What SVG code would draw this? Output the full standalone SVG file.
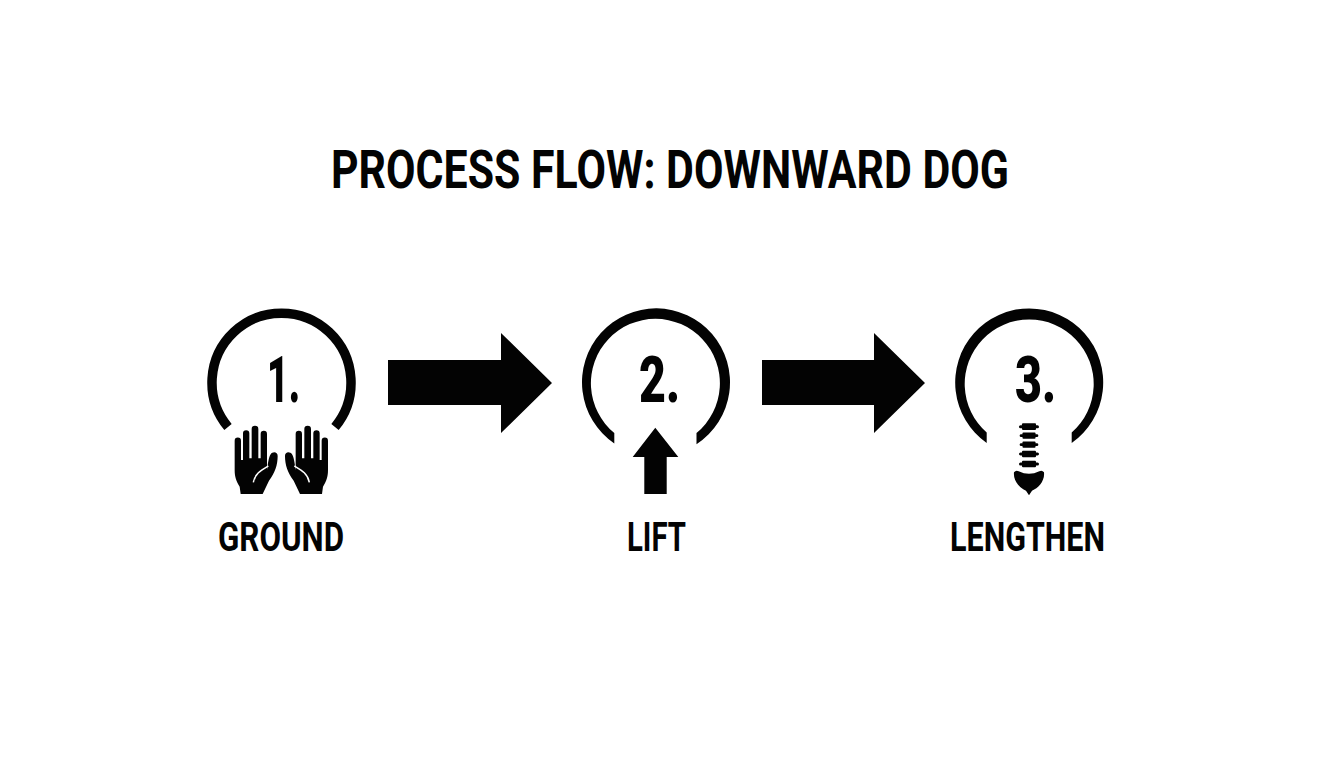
<svg xmlns="http://www.w3.org/2000/svg" xmlns:xlink="http://www.w3.org/1999/xlink" width="1344" height="768" viewBox="0 0 1344 768">
<style>
text{font-family:"Roboto","Liberation Sans",sans-serif;font-weight:700;fill:#030303;text-anchor:middle}
.ink{fill:#030303}
.ring{fill:none;stroke:#030303;stroke-width:9.5}
.crease{fill:none;stroke:#fff;stroke-width:4.500}
.title{font-size:53px}
.num{font-size:65px;font-weight:900}
.lab{font-size:41px}
</style>
<defs>
<path id="hand" class="ink" d="M29 62a9.500 9.500 0 0 1 19 0V120H54V40a9.500 9.500 0 0 1 19 0V115H80V27a10 10 0 0 1 20 0V115H107V42a9.500 9.500 0 0 1 19 0V150C129 130 131 112 137 103C143 94 158 95 158 108C158 135 150 158 132 182L113 222H47L44 200C33 182 29 170 29 150Z"/>
<g id="vertebra"><rect class="ink" x="-7" y="-3.300" width="14" height="6.600" rx="1"/><rect class="ink" x="-10" y="-1.500" width="20" height="3" rx="1.500"/></g>
</defs>
<rect width="1344" height="768" fill="#fff"/>
<text class="title" x="670" y="187.500" textLength="678" lengthAdjust="spacingAndGlyphs">PROCESS FLOW: DOWNWARD DOG</text>
<g id="connectors">
<path class="ink" d="M388 360H501V333L552 383L501 433V405H388Z"/>
<path class="ink" d="M762 360H874V333L925 383L874 433V405H762Z"/>
</g>
<g id="node-1">
<path class="ring" d="M228 427A69.500 69.500 0 1 1 335 427"/>
<text class="num" x="283.500" y="402" textLength="33" lengthAdjust="spacingAndGlyphs">1.</text>
<g transform="translate(225 420) scale(.3333)">
<use xlink:href="#hand" href="#hand"/>
<path class="crease" d="M85 187C90 160 110 150 130 138"/>
<g transform="matrix(-1 0 0 1 338 0)"><use xlink:href="#hand" href="#hand"/><path class="crease" d="M85 187C90 160 110 150 130 138"/></g>
</g>
<text class="lab" x="281" y="551" textLength="126" lengthAdjust="spacingAndGlyphs">GROUND</text>
</g>
<g id="node-2">
<path class="ink" d="M614.300 443.500A74 74 0 1 1 696.500 444.300V433A64.500 64.500 0 1 0 614.300 433Z"/>
<text class="num" x="659.500" y="402" textLength="41" lengthAdjust="spacingAndGlyphs">2.</text>
<path class="ink" d="M655.300 427.700L678.300 457H666.700V494H644.300V457H632.700Z"/>
<text class="lab" x="656.500" y="551" textLength="59" lengthAdjust="spacingAndGlyphs">LIFT</text>
</g>
<g id="node-3">
<path class="ink" d="M986.700 443A74 74 0 1 1 1071.700 443V432.500A64.500 64.500 0 1 0 986.700 432.500Z"/>
<text class="num" x="1035.500" y="402" textLength="41" lengthAdjust="spacingAndGlyphs">3.</text>
<g transform="translate(1000 415) scale(.3333)">
<g transform="translate(87 35) scale(3)"><use xlink:href="#vertebra" href="#vertebra"/></g>
<g transform="translate(87 62) scale(2.800)"><use xlink:href="#vertebra" href="#vertebra"/></g>
<g transform="translate(87 89) scale(2.800)"><use xlink:href="#vertebra" href="#vertebra"/></g>
<g transform="translate(87 117) scale(3)"><use xlink:href="#vertebra" href="#vertebra"/></g>
<g transform="translate(87 147) scale(3)"><use xlink:href="#vertebra" href="#vertebra"/></g>
<path class="ink" d="M42 172Q48 164 56 169Q87 184 118 169Q126 164 132 172C135 198 115 220 96 227L87 241L78 227C60 220 39 198 42 172Z"/>
</g>
<text class="lab" x="1027.500" y="551" textLength="155" lengthAdjust="spacingAndGlyphs">LENGTHEN</text>
</g>
</svg>
